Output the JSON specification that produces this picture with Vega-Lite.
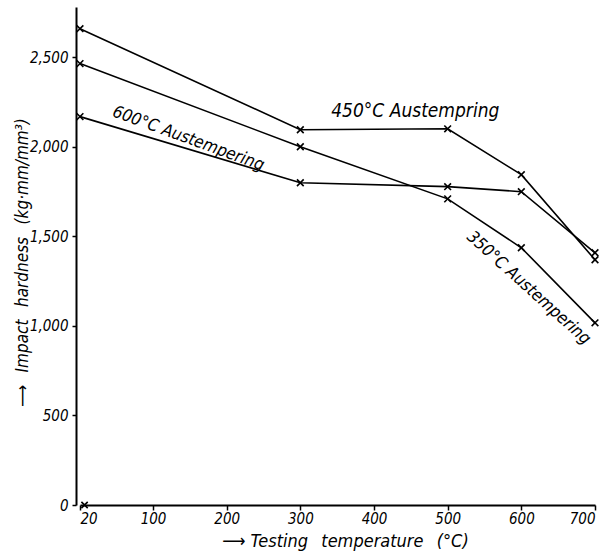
{
  "$schema": "https://vega.github.io/schema/vega-lite/v6.json",
  "width": 520,
  "height": 498,
  "autosize": {"type": "none"},
  "padding": {"left": 76, "top": 7, "right": 20, "bottom": 46},
  "background": "white",
  "config": {
    "view": {"stroke": null},
    "font": "DejaVu Sans Condensed",
    "axis": {
      "grid": false,
      "domainColor": "black",
      "domainWidth": 2,
      "tickColor": "black",
      "tickWidth": 1.5,
      "labelFont": "DejaVu Sans Condensed",
      "labelFontStyle": "italic",
      "labelFontSize": 15,
      "labelColor": "black",
      "titleFont": "DejaVu Sans Condensed",
      "titleFontStyle": "italic",
      "titleFontWeight": "normal",
      "titleFontSize": 17,
      "titleColor": "black"
    }
  },
  "datasets": {
    "curves": [
      {"series": "450", "temperature": 20, "hardness": 2659},
      {"series": "450", "temperature": 300, "hardness": 2095},
      {"series": "450", "temperature": 500, "hardness": 2100},
      {"series": "450", "temperature": 600, "hardness": 1844},
      {"series": "450", "temperature": 700, "hardness": 1369},
      {"series": "350", "temperature": 20, "hardness": 2464},
      {"series": "350", "temperature": 300, "hardness": 2000},
      {"series": "350", "temperature": 500, "hardness": 1709},
      {"series": "350", "temperature": 600, "hardness": 1436},
      {"series": "350", "temperature": 700, "hardness": 1017},
      {"series": "600", "temperature": 20, "hardness": 2168},
      {"series": "600", "temperature": 300, "hardness": 1799},
      {"series": "600", "temperature": 500, "hardness": 1777},
      {"series": "600", "temperature": 600, "hardness": 1749},
      {"series": "600", "temperature": 700, "hardness": 1408}
    ],
    "origin": [
      {"temperature": 25, "hardness": 0}
    ],
    "label450": [
      {"label": "450°C Austempring", "temperature": 456, "hardness": 2200}
    ],
    "labels": [
      {"label": "600°C Austempering", "temperature": 148, "hardness": 2045, "angle": 20},
      {"label": "350°C Austempering", "temperature": 610, "hardness": 1211, "angle": 42}
    ]
  },
  "encoding": {
    "x": {
      "field": "temperature",
      "type": "quantitative",
      "scale": {"domain": [20, 100, 700], "range": [4, 77, 519], "nice": false, "zero": false},
      "axis": {
        "values": [20, 100, 200, 300, 400, 500, 600, 700],
        "title": "⟶ Testing\u2002 temperature\u2002 (°C)",
        "titleFontSize": 18,
        "titleX": 269,
        "titleY": 36,
        "titleBaseline": "middle",
        "titleAnchor": "middle",
        "tickSize": 5,
        "labelPadding": 1
      }
    },
    "y": {
      "field": "hardness",
      "type": "quantitative",
      "scale": {"domain": [0, 2780], "nice": false, "zero": true},
      "axis": {
        "values": [0, 500, 1000, 1500, 2000, 2500],
        "format": ",.0f",
        "title": "⟶\u2002 Impact\u2002 hardness\u2002 (kg·mm/mm³)",
        "titleX": -54,
        "titleY": 255,
        "titleBaseline": "middle",
        "titleAngle": -90,
        "tickSize": 4,
        "labelPadding": 4
      }
    }
  },
  "layer": [
    {
      "data": {"name": "curves"},
      "mark": {"type": "line", "color": "black", "strokeWidth": 1.6},
      "encoding": {"detail": {"field": "series"}}
    },
    {
      "data": {"name": "curves"},
      "mark": {"type": "point", "shape": "M-1,-1L1,1M-1,1L1,-1", "filled": false, "stroke": "black", "strokeWidth": 1.6, "size": 45, "opacity": 1}
    },
    {
      "data": {"name": "origin"},
      "mark": {"type": "point", "shape": "M-1,-1L1,1M-1,1L1,-1", "filled": false, "stroke": "black", "strokeWidth": 1.6, "size": 40, "opacity": 1}
    },
    {
      "data": {"name": "label450"},
      "mark": {"type": "text", "font": "DejaVu Sans Condensed", "fontStyle": "italic", "fontSize": 19, "color": "black", "align": "center", "baseline": "middle"},
      "encoding": {"text": {"field": "label"}}
    },
    {
      "data": {"name": "labels"},
      "mark": {"type": "text", "font": "DejaVu Sans Condensed", "fontStyle": "italic", "fontSize": 17, "color": "black", "align": "center", "baseline": "middle"},
      "encoding": {
        "text": {"field": "label"},
        "angle": {"field": "angle", "type": "quantitative", "scale": null}
      }
    }
  ]
}
